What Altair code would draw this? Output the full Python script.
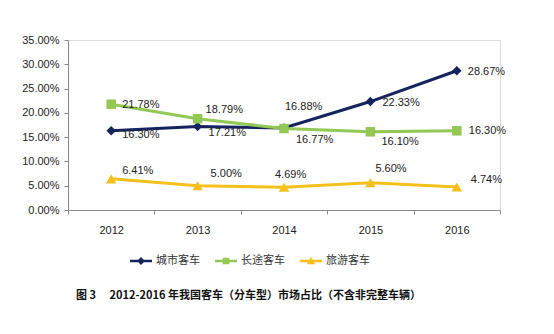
import altair as alt
import pandas as pd

years = ["2012", "2013", "2014", "2015", "2016"]
series_names = ["城市客车", "长途客车", "旅游客车"]
city = [16.30, 17.21, 16.88, 22.33, 28.67]
coach = [21.78, 18.79, 16.77, 16.10, 16.30]
tour = [6.41, 5.00, 4.69, 5.60, 4.74]
y_ticks = [0, 0.05, 0.10, 0.15, 0.20, 0.25, 0.30, 0.35]
caption = "图 3　 2012-2016 年我国客车（分车型）市场占比（不含非完整车辆）"

# styling (not data)
colors = ["#15245E", "#92C853", "#F4C01C"]
marker_shapes = ["diamond", "square", "triangle-up"]
marker_sizes = [90, 90, 110]
legend_paths = [
    "M-1,-0.12H1V0.12H-1Z M-0.36,0L0,-0.36L0.36,0L0,0.36Z",
    "M-1,-0.12H1V0.12H-1Z M-0.3,-0.3H0.3V0.3H-0.3Z",
    "M-1,-0.12H1V0.12H-1Z M0,-0.38L0.38,0.3H-0.38Z",
]
label_dx = [[11, 11, 1, 12, 11], [11, 8, 12, 11, 12], [11, 13, -9, 5, 14]]
label_dy = [[4, 7, -21, 1, 1], [1, -9, 11, 10, 0], [-8, -12, -12, -14, -7]]

rows = []
for si, (name, vals) in enumerate(zip(series_names, [city, coach, tour])):
    for yi, (yr, v) in enumerate(zip(years, vals)):
        rows.append({
            "year": yr, "series": name, "value": v / 100.0,
            "label": f"{v:.2f}%", "dx": label_dx[si][yi], "dy": label_dy[si][yi],
        })
df = pd.DataFrame(rows)

FONT = "Liberation Sans"
CJK = "Noto Sans CJK SC"

x_enc = alt.X(
    "year:N",
    scale=alt.Scale(type="band", paddingInner=0, paddingOuter=0),
    axis=alt.Axis(
        title=None, labelAngle=0, tickBand="extent", grid=False,
        domainColor="#8a8a8a", tickColor="#8a8a8a", tickSize=4,
        labelPadding=10, labelFont=FONT, labelFontSize=11, labelColor="#222",
    ),
)
y_enc = alt.Y(
    "value:Q",
    scale=alt.Scale(domain=[0, 0.35], nice=False, zero=True),
    axis=alt.Axis(
        title=None, values=y_ticks, format=".2%", grid=False,
        domainColor="#8a8a8a", tickColor="#8a8a8a", tickSize=4,
        labelPadding=5, labelFont=FONT, labelFontSize=11, labelColor="#222",
    ),
)

base = alt.Chart(df)

layers = []
for si, name in enumerate(series_names):
    sub = base.transform_filter(alt.datum.series == name)
    layers.append(
        sub.mark_line(strokeWidth=3, color=colors[si]).encode(
            x=x_enc, y=y_enc, order=alt.Order("year:N"))
    )
for si, name in enumerate(series_names):
    sub = base.transform_filter(alt.datum.series == name)
    layers.append(
        sub.mark_point(filled=True, opacity=1, shape=marker_shapes[si],
                       size=marker_sizes[si], color=colors[si])
        .encode(x=x_enc, y=y_enc)
    )

combos = sorted(set(zip(df["dx"], df["dy"])))
for dx, dy in combos:
    layers.append(
        base.transform_filter((alt.datum.dx == int(dx)) & (alt.datum.dy == int(dy)))
        .mark_text(align="left", baseline="middle", dx=int(dx), dy=int(dy),
                   font=FONT, fontSize=11, color="#222")
        .encode(x=x_enc, y=y_enc, text="label:N")
    )

legend_props = dict(
    title=None, orient="none", direction="horizontal", legendX=62, legendY=210,
    labelFont=CJK, labelFontSize=11, labelColor="#333", symbolSize=484,
    symbolOpacity=1, symbolStrokeWidth=0, labelOffset=4, columnPadding=15,
)
# legend-only layer: no marks drawn (empty after filter), entries come from scale domain
legend_layer = base.transform_filter(alt.datum.value < 0).mark_point(filled=True, opacity=1).encode(
    x=x_enc, y=y_enc,
    color=alt.Color("series:N", scale=alt.Scale(domain=series_names, range=colors),
                    legend=alt.Legend(**legend_props)),
    shape=alt.Shape("series:N", scale=alt.Scale(domain=series_names, range=legend_paths),
                    legend=alt.Legend(**legend_props)),
)
layers.append(legend_layer)

chart = alt.layer(*layers).properties(
    width=432, height=170,
    autosize=alt.AutoSizeParams(type="none"),
    padding={"left": 68, "top": 40, "right": 54, "bottom": 124},
    title=alt.TitleParams(
        text=caption, orient="bottom", anchor="start", frame="group",
        font=CJK, fontSize=11, fontWeight="bold", color="#111", dx=8, offset=24,
    ),
).configure_view(stroke=None).configure(background="white")

chart.save("out.html", embed_options={"renderer": "svg", "actions": False})
